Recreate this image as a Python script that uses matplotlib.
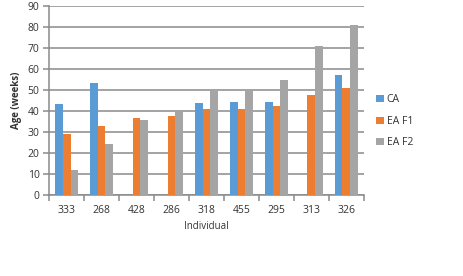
import numpy as np
import matplotlib
matplotlib.use("Agg")
import matplotlib.pyplot as plt

plt.rcParams["font.family"] = ["Open Sans", "DejaVu Sans"]

# data
individuals = ["333", "268", "428", "286", "318", "455", "295", "313", "326"]
ca = [43.5, 53.2, np.nan, np.nan, 43.8, 44.3, 44.3, np.nan, 57.3]
ea_f1 = [28.9, 32.7, 36.5, 37.8, 41.1, 41.1, 42.4, 47.8, 51.0]
ea_f2 = [11.9, 24.3, 36.0, 40.0, 49.5, 50.6, 54.8, 71.1, 81.0]
series = [("CA", ca, "#5B9BD5"), ("EA F1", ea_f1, "#ED7D31"), ("EA F2", ea_f2, "#A5A5A5")]

fig = plt.figure(figsize=(4.64, 2.76), dpi=100)
ax = fig.add_axes([0.106, 0.293, 0.678, 0.685])

x = np.arange(len(individuals))
w = 0.22
for i, (name, vals, col) in enumerate(series):
    ax.bar(x + (i - 1) * w, vals, width=w, color=col, label=name, zorder=3)

ax.set_xlim(-0.5, len(individuals) - 0.5)
ax.set_ylim(0, 90)
ax.set_yticks(range(0, 91, 10))
ax.yaxis.grid(True, color="#8a8a8a", linewidth=1.1, zorder=0)

ax.set_xticks(x)
ax.set_xticklabels(individuals)
ax.set_xticks(np.arange(-0.5, len(individuals)), minor=True)
ax.tick_params(axis="x", which="major", length=0, pad=7, labelsize=7.5, labelcolor="#333333")
ax.tick_params(axis="x", which="minor", length=4, color="#8a8a8a", width=1.1)
ax.tick_params(axis="y", length=4, color="#8a8a8a", width=1.1, pad=3, labelsize=7.5, labelcolor="#333333")

for side in ["top", "right"]:
    ax.spines[side].set_visible(False)
for side in ["left", "bottom"]:
    ax.spines[side].set_color("#8a8a8a")
    ax.spines[side].set_linewidth(1.1)

ax.set_ylabel("Age (weeks)", fontsize=7, fontweight="bold", color="#333333", labelpad=4)
ax.set_xlabel("Individual", fontsize=7, color="#333333", labelpad=4)

ax.legend(loc="center left", bbox_to_anchor=(1.01, 0.39), frameon=False,
          fontsize=7.5, handlelength=0.7, handleheight=0.7, handletextpad=0.3,
          labelspacing=1.0, labelcolor="#333333")

fig.savefig("out.png", dpi=100)
